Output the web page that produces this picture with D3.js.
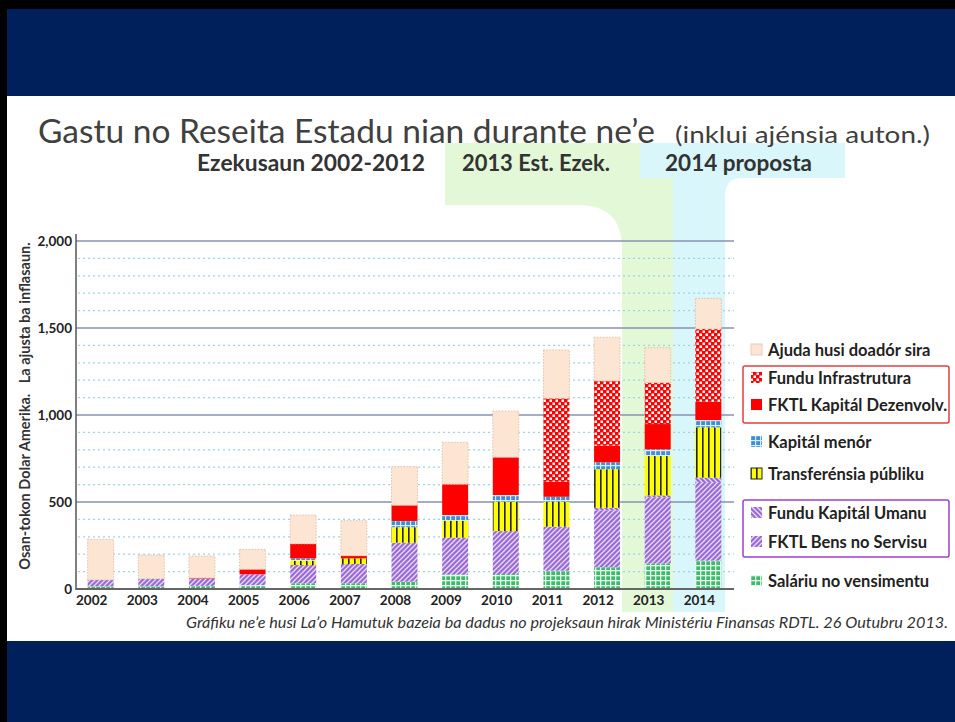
<html>
<head>
<meta charset="utf-8">
<script src="https://d3js.org/d3.v7.min.js"></script>
<style>
  body { margin: 0; background: #000; }
  svg { display: block; }
  text { font-family: Lato, "Open Sans", sans-serif; }
</style>
</head>
<body>
<svg id="chart" width="955" height="722"></svg>
<script>
// values, millions of US$
const years = ["2002","2003","2004","2005","2006","2007","2008","2009","2010","2011","2012","2013","2014"];
const salariu = [15, 15, 18, 22, 33, 33, 42, 84, 86, 105, 125, 147, 163];
const bens    = [37, 44, 42, 63, 105, 111, 224, 211, 247, 253, 327, 378, 447];
const fku     = [0, 0, 0, 0, 0, 0, 0, 0, 0, 0, 15, 13, 30];
const transf  = [0, 0, 0, 0, 25, 32, 89, 98, 169, 144, 221, 226, 289];
const kmenor  = [0, 0, 0, 0, 13, 0, 36, 32, 38, 28, 40, 39, 42];
const dezenv  = [0, 0, 3, 28, 83, 15, 90, 177, 217, 87, 96, 145, 106];
const infra   = [0, 0, 0, 0, 0, 0, 0, 0, 0, 479, 371, 238, 417];
const ajuda   = [234, 136, 127, 115, 166, 202, 222, 241, 266, 278, 252, 201, 176];

const yTicks = [0, 500, 1000, 1500, 2000];

const keys = ["salariu","bens","fku","transf","kmenor","dezenv","infra","ajuda"];
const series = {salariu, bens, fku, transf, kmenor, dezenv, infra, ajuda};
const labels = {
  ajuda: "Ajuda husi doadór sira",
  infra: "Fundu Infrastrutura",
  dezenv: "FKTL Kapitál Dezenvolv.",
  kmenor: "Kapitál menór",
  transf: "Transferénsia públiku",
  fku: "Fundu Kapitál Umanu",
  bens: "FKTL Bens no Servisu",
  salariu: "Saláriu no vensimentu"
};

const table = years.map((y, i) => {
  let row = {year: y};
  keys.forEach(k => row[k] = series[k][i]);
  return row;
});

const svg = d3.select("#chart");

// frame
svg.append("rect").attr("x", 0).attr("y", 0).attr("width", 955).attr("height", 722).attr("fill", "#000");
svg.append("rect").attr("x", 7).attr("y", 9).attr("width", 948).attr("height", 87).attr("fill", "#00205c");
svg.append("rect").attr("x", 7).attr("y", 96).attr("width", 948).attr("height", 545).attr("fill", "#fff");
svg.append("rect").attr("x", 7).attr("y", 641).attr("width", 948).attr("height", 81).attr("fill", "#00205c");

// patterns
const defs = svg.append("defs");
function pat(id, w, h, draw) {
  let p = defs.append("pattern").attr("id", id).attr("patternUnits", "userSpaceOnUse")
    .attr("width", w).attr("height", h);
  draw(p);
}
pat("pInfra", 6, 6, p => {
  p.append("rect").attr("width", 6).attr("height", 6).attr("fill", "#f00");
  p.append("rect").attr("x", 0.5).attr("y", 0.5).attr("width", 2.5).attr("height", 2.5).attr("fill", "#fff");
  p.append("rect").attr("x", 3.5).attr("y", 3.5).attr("width", 2.5).attr("height", 2.5).attr("fill", "#fff");
});
pat("pKmenor", 5, 5, p => {
  p.append("rect").attr("width", 5).attr("height", 5).attr("fill", "#3d8fd6");
  p.append("rect").attr("x", 0).attr("y", 0).attr("width", 5).attr("height", 1.2).attr("fill", "#d8ecfa");
  p.append("rect").attr("x", 0).attr("y", 0).attr("width", 1.2).attr("height", 5).attr("fill", "#d8ecfa");
});
pat("pTransf", 6, 6, p => {
  p.append("rect").attr("width", 6).attr("height", 6).attr("fill", "#ffff00");
  p.append("rect").attr("x", 0).attr("y", 0).attr("width", 1.6).attr("height", 6).attr("fill", "#222");
});
pat("pBens", 5, 5, p => {
  p.append("rect").attr("width", 5).attr("height", 5).attr("fill", "#9a6bd6");
  p.append("path").attr("d", "M-1,6 L6,-1 M-1,1 L1,-1 M4,6 L6,4").attr("stroke", "#e8dcf8").attr("stroke-width", 1.3);
});
pat("pFku", 5, 5, p => {
  p.append("rect").attr("width", 5).attr("height", 5).attr("fill", "#9a6bd6");
  p.append("path").attr("d", "M-1,-1 L6,6 M4,-1 L6,1 M-1,4 L1,6").attr("stroke", "#e8dcf8").attr("stroke-width", 1.3);
});
pat("pSal", 5, 5, p => {
  p.append("rect").attr("width", 5).attr("height", 5).attr("fill", "#3dbb6c");
  p.append("rect").attr("x", 0).attr("y", 0).attr("width", 5).attr("height", 1.3).attr("fill", "#e6f7ea");
  p.append("rect").attr("x", 0).attr("y", 0).attr("width", 1.3).attr("height", 5).attr("fill", "#e6f7ea");
});

const fills = {
  ajuda: "#fde5d4",
  infra: "url(#pInfra)",
  dezenv: "#ff0000",
  kmenor: "url(#pKmenor)",
  transf: "url(#pTransf)",
  fku: "url(#pFku)",
  bens: "url(#pBens)",
  salariu: "url(#pSal)"
};

// highlight bands for 2013 / 2014
svg.append("path")
  .attr("d", "M445,143 H673 V612 H622 V248 Q622,205 578,205 H445 Z")
  .attr("fill", "#e2f8d6");
svg.append("path")
  .attr("d", "M640,143 H845 V178 H742 Q725,178 725,196 V612 H673 V178 H640 Z")
  .attr("fill", "#d9f6fa");

// titles
svg.append("text").attr("x", 38).attr("y", 143).attr("font-size", 32).attr("fill", "#404040")
  .attr("textLength", 617).attr("lengthAdjust", "spacingAndGlyphs")
  .text("Gastu no Reseita Estadu nian durante ne’e");
svg.append("text").attr("x", 675).attr("y", 143).attr("font-size", 23).attr("fill", "#404040")
  .attr("textLength", 255).attr("lengthAdjust", "spacingAndGlyphs")
  .text("(inklui ajénsia auton.)");
svg.append("text").attr("x", 197).attr("y", 171).attr("font-size", 22).attr("font-weight", "bold").attr("fill", "#333")
  .attr("textLength", 228).attr("lengthAdjust", "spacingAndGlyphs")
  .text("Ezekusaun 2002-2012");
svg.append("text").attr("x", 462).attr("y", 171).attr("font-size", 22).attr("font-weight", "bold").attr("fill", "#333")
  .attr("textLength", 148).attr("lengthAdjust", "spacingAndGlyphs")
  .text("2013 Est. Ezek.");
svg.append("text").attr("x", 665).attr("y", 171).attr("font-size", 22).attr("font-weight", "bold").attr("fill", "#333")
  .attr("textLength", 147).attr("lengthAdjust", "spacingAndGlyphs")
  .text("2014 proposta");

// scales
const x = d3.scaleBand().domain(years).range([75, 734]).paddingInner(0.487).paddingOuter(0.25);
const y = d3.scaleLinear().domain([0, 2000]).range([589, 241]);

// grid
const g = svg.append("g");
g.selectAll(".minor").data(d3.range(100, 2001, 100).filter(v => v % 500 != 0))
  .join("line")
  .attr("x1", 78).attr("x2", 734)
  .attr("y1", d => y(d)).attr("y2", d => y(d))
  .attr("stroke", "#9fd3ec").attr("stroke-width", 1.3).attr("stroke-dasharray", "2,3");
g.selectAll(".major").data(yTicks.filter(v => v > 0))
  .join("line")
  .attr("x1", 76).attr("x2", 734)
  .attr("y1", d => y(d)).attr("y2", d => y(d))
  .attr("stroke", "#8890b0").attr("stroke-width", 1.5);

// bars
const stacked = d3.stack().keys(keys)(table);
const bars = svg.append("g");
stacked.forEach(s => {
  bars.selectAll(null).data(s.filter(d => d[1] > d[0]))
    .join("rect")
    .attr("x", d => x(d.data.year))
    .attr("width", x.bandwidth())
    .attr("y", d => y(d[1]))
    .attr("height", d => y(d[0]) - y(d[1]))
    .attr("fill", fills[s.key])
    .attr("stroke", s.key == "ajuda" ? "#dcb59c" : "none")
    .attr("stroke-width", s.key == "ajuda" ? 0.8 : 0)
    .attr("stroke-dasharray", s.key == "ajuda" ? "1.5,1.5" : null);
});

// axes
svg.append("line").attr("x1", 76).attr("x2", 76).attr("y1", 234).attr("y2", 590)
  .attr("stroke", "#555").attr("stroke-width", 1.5);
svg.append("line").attr("x1", 76).attr("x2", 734).attr("y1", 589).attr("y2", 589)
  .attr("stroke", "#666").attr("stroke-width", 2);

svg.append("g").selectAll("text").data(yTicks).join("text")
  .attr("x", 72).attr("y", d => y(d) + 5)
  .attr("text-anchor", "end").attr("font-size", 13.5).attr("font-weight", "bold").attr("fill", "#222")
  .text(d => d3.format(",")(d));

svg.append("g").selectAll("text").data(years).join("text")
  .attr("x", d => x(d) + x.bandwidth() / 2 - 9).attr("y", 605)
  .attr("text-anchor", "middle").attr("font-size", 13.5).attr("font-weight", "bold").attr("fill", "#222")
  .text(d => d);

svg.append("text")
  .attr("transform", "translate(30,406) rotate(-90)")
  .attr("text-anchor", "middle").attr("font-size", 14.5).attr("font-weight", "bold").attr("fill", "#333")
  .attr("xml:space", "preserve")
  .text("Osan-tokon Dolar Amerika.   La ajusta ba inflasaun.");

// legend
const legendRows = [
  ["ajuda", 350], ["infra", 378], ["dezenv", 405], ["kmenor", 442],
  ["transf", 474], ["fku", 513], ["bens", 542], ["salariu", 581]
];
svg.append("rect").attr("x", 743).attr("y", 366).attr("width", 206).attr("height", 57)
  .attr("fill", "none").attr("stroke", "#e04040").attr("stroke-width", 1.5).attr("rx", 2);
svg.append("rect").attr("x", 743).attr("y", 500).attr("width", 206).attr("height", 57)
  .attr("fill", "none").attr("stroke", "#9a40d0").attr("stroke-width", 1.5).attr("rx", 2);
const lg = svg.append("g");
lg.selectAll("rect").data(legendRows).join("rect")
  .attr("x", 751).attr("y", d => d[1] - 6).attr("width", 11).attr("height", 11)
  .attr("fill", d => fills[d[0]])
  .attr("stroke", d => d[0] == "ajuda" ? "#e8cbb8" : (d[0] == "transf" ? "#222" : "none"));
lg.selectAll("text").data(legendRows).join("text")
  .attr("x", 768).attr("y", d => d[1] + 6)
  .attr("font-size", 16.5).attr("font-weight", "bold").attr("fill", "#222")
  .text(d => labels[d[0]]);

// source note
svg.append("text").attr("x", 948).attr("y", 628).attr("text-anchor", "end")
  .attr("font-size", 15.5).attr("font-style", "italic").attr("fill", "#333")
  .attr("textLength", 762).attr("lengthAdjust", "spacingAndGlyphs")
  .text("Gráfiku ne’e husi La’o Hamutuk bazeia ba dadus no projeksaun hirak Ministériu Finansas RDTL. 26 Outubru 2013.");
</script>
</body>
</html>
